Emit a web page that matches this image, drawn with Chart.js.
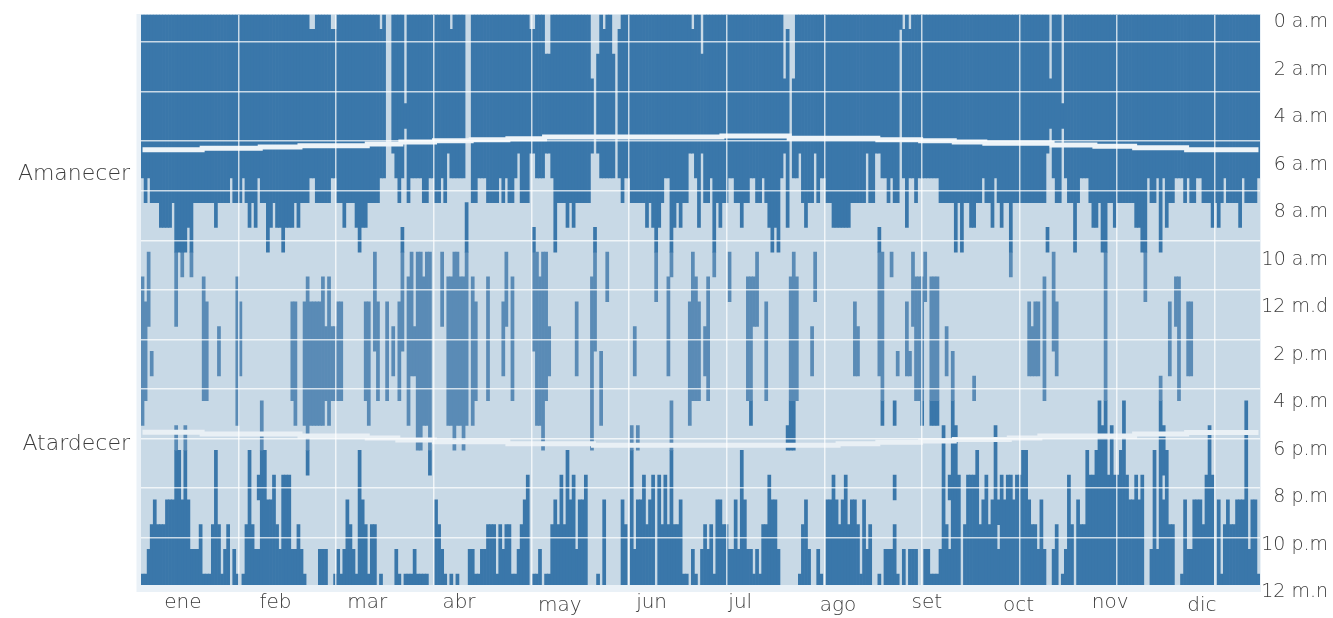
<!DOCTYPE html>
<html><head><meta charset="utf-8">
<script src="https://cdn.jsdelivr.net/npm/chart.js@4"></script>
<style>html,body{margin:0;padding:0;background:#fff}canvas{display:block}</style>
</head><body><canvas id="c" width="1333" height="618"></canvas>
<script>
// Run-length values: day index, then hour row.
const dawnRuns=[0,7,1,8,2,7,3,8,6,9,10,8,11,10,15,9,16,11,17,8,24,9,25,8,29,7,30,8,33,7,34,8,35,9,36,8,37,9,38,7,39,8,41,10,42,9,43,8,44,9,46,10,47,9,50,8,51,9,52,8,55,7,57,8,
62,7,64,8,66,9,67,8,70,9,71,10,72,9,74,8,78,7,80,0,82,6,83,7,84,8,85,7,86,5,87,8,88,7,92,8,94,7,96,8,98,7,99,8,100,6,101,7,106,0,108,8,110,7,113,8,117,7,118,8,119,7,120,8,
122,7,123,6,124,8,127,6,129,7,132,6,134,7,135,10,136,8,139,9,140,8,141,9,142,8,147,6,148,0,149,6,150,7,155,0,156,7,157,8,158,7,160,8,165,9,166,8,167,9,168,12,169,9,170,8,171,7,173,11,174,9,175,8,176,9,177,8,179,6,181,7,182,9,183,6,
184,8,186,7,187,11,188,8,189,9,190,8,192,7,194,8,196,9,197,8,199,7,201,8,203,7,204,8,205,9,206,10,207,9,208,10,209,7,210,6,211,9,212,0,213,7,215,6,216,8,217,9,218,8,220,6,221,8,222,7,224,8,226,9,232,8,237,6,238,8,240,6,242,7,244,8,245,7,246,8,
248,1,249,7,250,9,251,7,253,8,254,7,261,8,266,10,267,8,268,10,269,8,271,9,273,8,275,7,276,8,278,9,279,7,280,8,281,9,282,8,284,11,285,8,296,6,297,5,298,7,299,8,301,5,302,7,303,8,305,10,306,8,307,7,310,8,
311,9,313,8,314,10,315,12,316,8,318,9,319,8,325,9,327,10,328,12,329,7,330,8,332,7,333,10,334,7,335,9,336,8,338,7,341,8,342,7,343,8,345,7,347,8,350,9,351,8,352,9,353,8,354,7,355,8,359,9,360,7,361,8,365,7];
const duskRuns=[0,23,2,22,3,21,4,20,5,21,8,20,11,17,12,18,13,20,14,17,15,20,16,22,19,21,20,23,23,21,24,18,25,21,26,23,27,22,28,21,29,24,30,22,31,23,32,24,33,23,34,21,35,18,36,21,37,22,38,19,39,16,40,18,41,20,43,19,44,21,45,22,46,19,49,22,51,21,52,22,53,23,54,24,58,22,61,24,
63,23,64,22,65,23,66,22,67,20,68,21,69,22,70,23,71,18,72,20,73,21,74,23,75,21,77,24,78,23,79,24,83,22,84,23,85,24,86,23,89,22,90,23,94,24,96,20,97,21,98,22,99,23,100,24,101,23,102,24,103,23,104,24,107,22,109,23,111,22,113,21,116,23,117,21,118,22,119,21,121,23,123,22,124,21,125,20,126,19,127,24,128,23,130,22,131,24,132,23,134,21,135,20,136,21,137,19,138,21,139,18,140,20,141,19,142,22,143,20,145,19,146,24,149,23,150,24,151,20,152,24,157,20,158,21,159,24,160,17,161,22,162,20,164,19,165,21,166,20,167,19,168,24,169,19,170,21,171,19,172,21,173,16,174,21,176,20,177,23,179,24,180,22,181,23,182,24,183,22,184,21,185,22,186,21,187,23,188,20,190,21,192,22,194,20,195,22,196,18,197,20,198,22,200,23,201,22,202,23,203,21,205,19,206,20,208,22,209,24,215,23,216,21,217,20,218,22,219,24,221,22,222,23,223,24,224,20,226,19,227,20,228,21,229,20,230,19,231,21,232,20,234,21,235,23,236,20,237,22,238,21,239,24,241,23,242,24,243,22,246,21,247,23,248,24,249,22,250,24,251,22,254,24,256,22,258,23,261,22,262,17,263,21,264,22,265,17,267,19,268,24,269,21,270,19,273,18,274,21,275,20,276,19,277,21,278,20,279,17,280,20,281,19,282,20,283,19,285,20,286,19,288,18,290,20,291,21,293,22,294,20,295,22,296,24,298,22,299,21,300,24,301,23,302,22,303,19,304,21,305,24,306,20,307,21,309,18,310,19,312,18,313,16,314,17,315,12,316,19,317,17,318,19,320,18,321,16,322,19,323,20,325,19,326,20,327,19,328,24,330,22,331,18,332,22,333,17,335,18,336,21,338,24,340,23,341,20,342,22,344,20,347,21,348,19,349,17,350,19,351,24,352,20,353,23,354,21,355,20,356,21,358,20,361,16,362,22,363,20,365,23];
// day, first hour row, end hour row
const lightGaps=[[55,0,1],[56,0,1],[62,0,1],[63,0,1],[78,0,1],[86,0,4],[101,0,1],[127,0,1],[128,0,1],[132,0,2],[133,0,2],[147,0,3],[149,0,2],[151,0,1],[154,0,2],[156,0,1],[180,0,1],[183,0,2],[210,0,3],[211,0,1],[213,0,3],[249,0,1],[251,0,1],[297,0,3],[301,0,4],[38,20,22],[280,21,22],[334,19,20]];
const activeBlocks=[[0,11,17],[1,12,16],[2,10,13],[3,14,15],[11,10,13],[13,10,11],[20,11,16],[21,12,16],[25,13,15],[31,11,17],[32,12,15],[49,12,16],[50,12,17],[53,12,17],[54,11,19],[55,12,17],[56,12,17],[57,12,17],[58,12,17],[59,11,17],[60,13,16],[61,11,17],[62,13,16],[63,13,16],[64,12,16],[65,12,16],[73,12,16],[74,12,17],[76,10,14],[77,12,16],[80,12,16],[82,13,15],[84,12,16],[85,9,14],[87,11,17],[88,10,15],[89,13,15],[90,10,18],[91,10,18],[92,11,17],[93,10,17],[94,10,19],[98,10,13],[100,11,17],[101,11,17],[102,10,18],[103,10,17],[104,11,17],[105,11,18],[106,8,17],[108,11,17],[109,12,16],[113,11,16],[118,12,15],[119,10,13],[121,11,16],[128,9,14],[129,10,17],[130,11,17],[131,10,18],[132,10,16],[133,13,15],[142,12,15],[147,11,18],[148,9,14],[150,14,17],[152,10,12],[161,13,15],[162,17,18],[172,11,15],[179,12,17],[180,10,16],[181,11,16],[182,12,16],[184,13,15],[185,11,16],[192,10,12],[198,11,16],[199,11,17],[200,11,13],[201,10,13],[204,12,16],[211,17,18],[212,11,18],[213,10,18],[214,11,16],[219,13,15],[220,10,12],[233,12,15],[234,13,15],[241,9,15],[242,10,17],[245,10,11],[246,16,17],[246,19,20],[247,14,15],[250,12,15],[251,14,15],[252,10,13],[253,11,16],[254,11,16],[255,11,17],[256,10,12],[258,11,17],[259,11,17],[260,11,17],[263,13,15],[264,19,20],[265,14,17],[272,15,16],[290,12,15],[291,13,15],[292,12,15],[293,12,15],[295,11,16],[296,9,10],[298,10,14],[299,12,15],[333,15,17],[336,12,15],[338,11,13],[339,11,16],[342,12,15],[343,12,15]];
const sunriseSteps=[0,5.86,20,5.80,39,5.75,52,5.70,74,5.63,85,5.55,96,5.50,108,5.46,120,5.42,132,5.35,190,5.31,212,5.40,241,5.46,255,5.50,266,5.55,276,5.60,298,5.67,312,5.72,325,5.78,342,5.86];
const sunsetSteps=[0,17.27,20,17.34,52,17.42,74,17.50,84,17.58,96,17.66,120,17.74,148,17.80,228,17.74,241,17.68,255,17.62,266,17.56,284,17.50,294,17.42,325,17.34,342,17.28];
const hourLabels=['0 a.m','2 a.m','4 a.m','6 a.m','8 a.m','10 a.m','12 m.d','2 p.m','4 p.m','6 p.m','8 p.m','10 p.m','12 m.n'];
const sideLabels=['Amanecer','Atardecer'];
const sideRows=[6.7,18.06];
const monthNames=['ene','feb','mar','abr','may','jun','jul','ago','set','oct','nov','dic'];
const monthDays=[13.7,44,74,104,137,167,196,228,257,287,317,347];
const monthLowered=[0,0,0,0,1,0,0,1,0,1,0,1];

const DAYS=366,DARK='#3a77aa',MID='#5a8bb6',LIGHT='#c8d9e6',FRAME='#eaf1f7',INK='#3c3c3c';
const FONT={family:'"DejaVu Sans", Lato, sans-serif',size:19,weight:'200'};
const MONTH_FONT={family:FONT.family,size:20,weight:'200'};
const SIDE_FONT={family:FONT.family,size:22,weight:'200'};

function expand(runs){const o=[];for(let i=0;i<runs.length;i+=2){const n=i+2<runs.length?runs[i+2]:DAYS;for(let d=runs[i];d<n;d++)o[d]=runs[i+1];}return o;}
const dawn=expand(dawnRuns),dusk=expand(duskRuns),sunrise=expand(sunriseSteps),sunset=expand(sunsetSteps);
const cells=[];
for(let d=0;d<DAYS;d++){cells[d]=[];for(let r=0;r<24;r++)cells[d][r]=(r<dawn[d]||r>=dusk[d])?1:0;}
lightGaps.forEach(g=>{for(let r=g[1];r<g[2];r++)cells[g[0]][r]=0;});
activeBlocks.forEach(b=>{for(let r=b[1];r<b[2];r++)cells[b[0]][r]=1;});
function rowColor(d,r){return (r>=10&&r<16)||(r>=16&&r<18&&d<180)?MID:DARK;}
const layers=[];
for(let d=0;d<DAYS;d++){let j=0,r=0;
  while(r<24){if(!cells[d][r]){r++;continue;}
    const col=rowColor(d,r);let e=r;
    while(e<24&&cells[d][e]&&rowColor(d,e)===col)e++;
    if(!layers[j])layers[j]={data:new Array(DAYS).fill(null),colors:new Array(DAYS).fill(DARK)};
    layers[j].data[d]=[r,e];layers[j].colors[d]=col;j++;r=e;}
}
const labels=Array.from({length:DAYS},(_,i)=>String(i));
const datasets=[
 {type:'line',label:'Amanecer',data:sunrise,borderColor:'#eef4f8',borderWidth:5,pointRadius:0,stepped:'middle',order:0,xAxisID:'x',yAxisID:'y'},
 {type:'line',label:'Atardecer',data:sunset,borderColor:'#e9f0f5',borderWidth:5,pointRadius:0,stepped:'middle',order:0,xAxisID:'x',yAxisID:'y'}
].concat(layers.map((l,i)=>({type:'bar',label:'h'+i,data:l.data,backgroundColor:l.colors,borderWidth:0,barPercentage:1,categoryPercentage:1,grouped:false,order:1,xAxisID:'x',yAxisID:'y'})));

function noMargins(s){s.paddingTop=s.paddingBottom=s.paddingLeft=s.paddingRight=0;}
function monthAxis(flag,pad,h,weight){
 const idx=monthDays.map((_,i)=>i).filter(i=>monthLowered[i]===flag);
 return {type:'linear',position:'bottom',min:0,max:DAYS,weight,
  afterFit(s){s.height=h;noMargins(s);},
  afterBuildTicks(s){s.ticks=idx.map(i=>({value:monthDays[i]}));},
  grid:{display:false,drawTicks:false},border:{display:false},
  ticks:{autoSkip:false,maxRotation:0,padding:pad,color:INK,font:MONTH_FONT,callback:(v,i)=>monthNames[idx[i]]}};
}
const framePlugin={id:'frame',
 afterLayout(ch){ch.scales.monthsLow.bottom=ch.height;},
 beforeDraw(ch){const a=ch.chartArea,c=ch.ctx;c.save();c.fillStyle=FRAME;c.fillRect(a.left-4.5,a.top-.7,a.width+5.5,a.height+7.7);c.fillStyle=LIGHT;c.fillRect(a.left,a.top,a.width,a.height);c.restore();}};
new Chart(document.getElementById('c'),{
 data:{labels,datasets},
 plugins:[framePlugin],
 options:{responsive:false,animation:false,events:[],
  layout:{padding:{left:0,right:5,top:14.7,bottom:0}},
  plugins:{legend:{display:false},tooltip:{enabled:false},title:{display:false}},
  scales:{
   x:{type:'category',display:false,offset:true,grid:{display:false}},
   xGrid:{type:'linear',position:'bottom',min:0,max:DAYS,weight:0,
     afterFit(s){s.height=0;noMargins(s);},
     afterBuildTicks(s){s.ticks=[1,2,3,4,5,6,7,8,9,10,11].map(k=>({value:k*31.93}));},
     grid:{z:1,color:'rgba(255,255,255,0.72)',lineWidth:1.5,drawTicks:false},border:{display:false},ticks:{display:false}},
   monthsLow:monthAxis(1,9,0,1),
   monthsHigh:monthAxis(0,6,33,2),
   y:{type:'linear',position:'right',reverse:true,min:0.41,max:23.44,weight:0,
     afterFit(s){s.width=0;noMargins(s);},
     afterBuildTicks(s){const t=[];for(let k=0;k<11;k++)t.push({value:1.52+2*k});s.ticks=t;},
     grid:{z:1,color:'rgba(255,255,255,0.72)',lineWidth:1.5,drawTicks:false},border:{display:false},ticks:{display:false}},
   hours:{type:'linear',position:'right',reverse:true,min:0,max:24,weight:1,
     afterFit(s){s.width=68;noMargins(s);},
     grid:{display:false,drawTicks:false},border:{display:false},
     ticks:{stepSize:2,autoSkip:false,labelOffset:7.5,crossAlign:'far',padding:5,color:INK,font:FONT,callback:(v)=>hourLabels[v/2]}},
   side:{type:'linear',position:'left',reverse:true,min:0,max:24,
     afterFit(s){s.width=141;noMargins(s);},
     afterBuildTicks(s){s.ticks=sideRows.map(v=>({value:v}));},
     grid:{display:false,drawTicks:false},border:{display:false},
     ticks:{autoSkip:false,padding:11,color:INK,font:SIDE_FONT,callback:(v,i)=>sideLabels[i]}}
  }
 }
});
</script></body></html>
